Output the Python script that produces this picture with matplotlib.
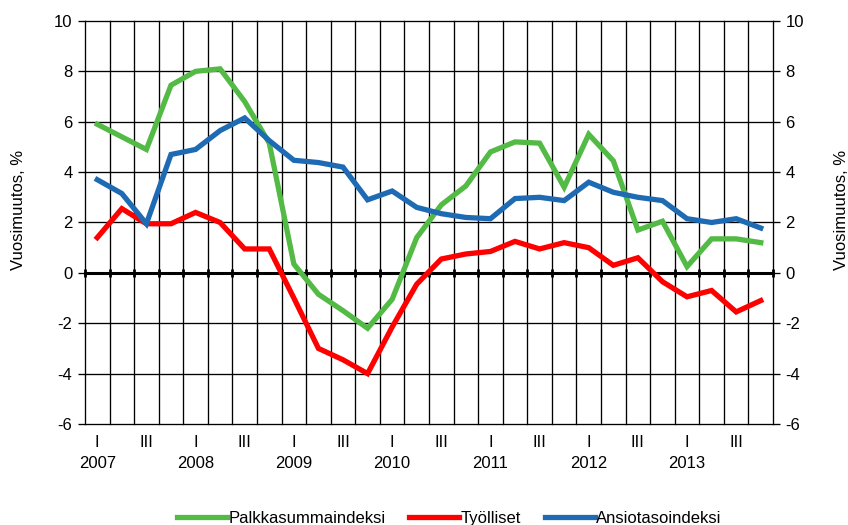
import numpy as np
import matplotlib
matplotlib.use('Agg')
import matplotlib.pyplot as plt
from matplotlib import transforms

plt.rcParams['font.family'] = ['Liberation Sans', 'DejaVu Sans']
plt.rcParams['axes.unicode_minus'] = False

#==============DATA (quarterly, 2007 Q1 - 2013 Q4)===========================
years = ['2007', '2008', '2009', '2010', '2011', '2012', '2013']
quarter_labels = ['I', '', 'III', '']

palkkasumma = [5.9, 5.4, 4.9, 7.45, 8.0, 8.1, 6.8, 5.15,
               0.35, -0.85, -1.5, -2.2, -1.05, 1.4, 2.7, 3.45,
               4.8, 5.2, 5.15, 3.4, 5.5, 4.45, 1.7, 2.05,
               0.25, 1.35, 1.35, 1.2]
tyolliset = [1.4, 2.55, 1.95, 1.95, 2.4, 2.0, 0.95, 0.95,
             -1.0, -3.0, -3.45, -4.0, -2.15, -0.45, 0.55, 0.75,
             0.85, 1.25, 0.95, 1.2, 1.0, 0.3, 0.6, -0.35,
             -0.95, -0.7, -1.55, -1.1]
ansiotaso = [3.7, 3.15, 1.95, 4.7, 4.9, 5.65, 6.15, 5.25,
             4.47, 4.38, 4.2, 2.9, 3.25, 2.6, 2.35, 2.2,
             2.15, 2.95, 3.0, 2.87, 3.6, 3.2, 3.0, 2.87,
             2.15, 2.0, 2.15, 1.78]

series_names = ['Palkkasummaindeksi', 'Työlliset', 'Ansiotasoindeksi']
series_colors = ['#52BA45', '#FF0000', '#1E6BB4']

#==============PLOT=========================================================
n = len(palkkasumma)
x = np.arange(n)

fig = plt.figure(figsize=(8.48, 5.25), dpi=100)
ax = fig.add_axes([0.1002, 0.1924, 0.8114, 0.7676])

# Grid: vertical lines between quarters, horizontal at every 2 %
bounds = np.arange(n + 1) - 0.5
for b in bounds:
    ax.axvline(b, color='black', lw=0.95, zorder=1, clip_on=False)
for yv in range(-6, 11, 2):
    ax.axhline(yv, color='black', lw=0.95, zorder=1, clip_on=False)
# Zero line with small tick marks
ax.axhline(0, color='black', lw=2.2, zorder=2, clip_on=False)
ax.plot(bounds, np.zeros(len(bounds)), '|', color='black', ms=6, mew=2, zorder=2, clip_on=False)

for vals, name, col in zip([palkkasumma, tyolliset, ansiotaso], series_names, series_colors):
    ax.plot(x, vals, color=col, lw=3.8, label=name, zorder=3, solid_joinstyle='miter')

ax.set_xlim(-0.5, n - 0.5)
ax.set_ylim(-6, 10)
ax.set_yticks(range(-6, 11, 2))
ax.tick_params(axis='y', which='both', left=True, right=True, labelleft=True,
               labelright=True, length=5, width=0.95, labelsize=12, pad=4)
for s in ax.spines.values():
    s.set_visible(False)

# Quarter labels and years
ax.set_xticks(x)
ax.set_xticklabels([quarter_labels[i % 4] for i in x], fontsize=12)
ax.tick_params(axis='x', length=0, pad=8)
trans = transforms.blended_transform_factory(ax.transData, ax.transAxes)
for k, yr in enumerate(years):
    ax.text(4 * k, -0.097, yr, transform=trans, ha='center', va='center', fontsize=12)

fig.text(0.022, 0.60, 'Vuosimuutos, %', rotation=90, ha='center', va='center', fontsize=12)
fig.text(0.992, 0.60, 'Vuosimuutos, %', rotation=90, ha='center', va='center', fontsize=12)

fig.legend(loc='center', bbox_to_anchor=(0.53, 0.013), ncol=3, frameon=False,
           fontsize=12, handlelength=3.0, handletextpad=0.1, columnspacing=1.4)

fig.savefig('out.png', dpi=100)
